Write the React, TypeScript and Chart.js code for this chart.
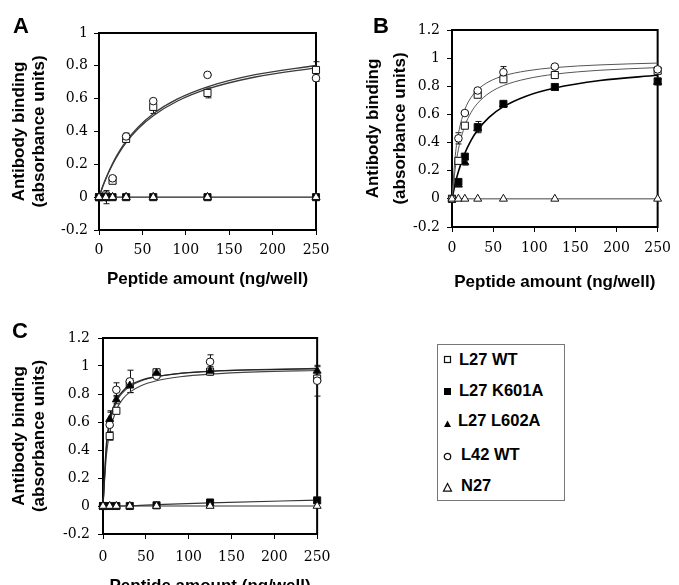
import React, { useEffect, useRef } from 'react';
import { Chart, registerables } from 'chart.js';

Chart.register(...registerables);

// ---------- data ----------
const DOSES = [0, 7.8, 15.6, 31.25, 62.5, 125, 250];
const FIT_X = [0, 4, 7.8, 15.6, 23, 31.25, 45, 62.5, 90, 125, 180, 250];
const ZERO_FIT_X = [0, 250];
const ZERO_FIT_Y = [0, 0];
const ZEROS = [0, 0, 0, 0, 0, 0, 0];

const X_TITLE = 'Peptide amount (ng/well)';
const Y_TITLE = ['Antibody binding', '(absorbance units)'];
const SERIES_NAMES = ['L27 WT', 'L27 K601A', 'L27 L602A', 'L42 WT', 'N27'];

// Panel A
const A_L27WT = [0, 0.01, 0.1, 0.355, 0.55, 0.635, 0.775];
const A_L27WT_ERR = [0, 0.01, 0.015, 0.02, 0.04, 0.03, 0.05];
const A_L42WT = [0, 0.0, 0.115, 0.37, 0.585, 0.745, 0.725];
const A_L42WT_ERR = [0, 0.04, 0.01, 0.02, 0.01, 0.005, 0.02];
const A_FIT_UPPER = [0, 0.062, 0.114, 0.205, 0.276, 0.341, 0.426, 0.508, 0.597, 0.672, 0.746, 0.802];
const A_FIT_LOWER = [0, 0.06, 0.111, 0.199, 0.268, 0.332, 0.416, 0.496, 0.584, 0.659, 0.732, 0.788];

// Panel B
const B_L27WT = [0, 0.27, 0.52, 0.74, 0.85, 0.88, 0.91];
const B_L27WT_ERR = [0, 0.02, 0.01, 0.01, 0.01, 0.01, 0.02];
const B_L42WT = [0, 0.43, 0.61, 0.77, 0.9, 0.94, 0.92];
const B_L42WT_ERR = [0, 0.04, 0.01, 0.01, 0.04, 0.01, 0.01];
const B_K601A = [0, 0.12, 0.3, 0.51, 0.675, 0.795, 0.835];
const B_K601A_ERR = [0, 0.02, 0.02, 0.04, 0.02, 0.02, 0.02];
const B_L602A = [0, 0.1, 0.26, 0.5, 0.67, 0.79, 0.83];
const B_L602A_ERR = [0, 0.01, 0.02, 0.02, 0.02, 0.02, 0.02];
const B_FIT_L42 = [0, 0.308, 0.464, 0.634, 0.719, 0.776, 0.833, 0.874, 0.909, 0.933, 0.952, 0.965];
const B_FIT_L27 = [0, 0.219, 0.352, 0.519, 0.612, 0.68, 0.751, 0.805, 0.852, 0.886, 0.914, 0.933];
const B_FIT_MUT = [0, 0.11, 0.194, 0.324, 0.414, 0.489, 0.579, 0.655, 0.73, 0.788, 0.841, 0.878];

// Panel C
const C_L27WT = [0, 0.5, 0.68, 0.87, 0.955, 0.96, 0.91];
const C_L27WT_ERR = [0, 0.03, 0.02, 0.02, 0.01, 0.02, 0.02];
const C_L42WT = [0, 0.58, 0.83, 0.89, 0.93, 1.03, 0.895];
const C_L42WT_ERR = [0, 0.1, 0.05, 0.08, 0.01, 0.05, 0.11];
const C_L602A = [0, 0.62, 0.76, 0.86, 0.95, 0.965, 0.965];
const C_L602A_ERR = [0, 0.05, 0.03, 0.05, 0.01, 0.03, 0.03];
const C_K601A = [0, 0, 0, 0, 0.005, 0.025, 0.04];
const C_FIT_L602A = [0, 0.444, 0.609, 0.757, 0.821, 0.862, 0.9, 0.926, 0.947, 0.962, 0.973, 0.98];
const C_FIT_L42 = [0, 0.423, 0.589, 0.743, 0.81, 0.854, 0.895, 0.923, 0.948, 0.963, 0.975, 0.983];
const C_FIT_L27 = [0, 0.362, 0.524, 0.687, 0.763, 0.813, 0.861, 0.895, 0.923, 0.942, 0.958, 0.968];
const C_FIT_K601A_X = [0, 31.25, 62.5, 125, 250];
const C_FIT_K601A = [0, 0.002, 0.01, 0.022, 0.042];

// ---------- helpers ----------
const pts = (xs: number[], ys: number[]) => xs.map((x, i) => ({ x, y: ys[i] }));

type Marker = 'openSquare' | 'filledSquare' | 'filledTriangle' | 'openCircle' | 'openTriangle';

function pointSet(ys: number[], marker: Marker, errors?: number[]) {
  const filled = marker === 'filledSquare' || marker === 'filledTriangle';
  const style = marker.includes('Square') ? 'rect' : marker.includes('Triangle') ? 'triangle' : 'circle';
  const radius = style === 'rect' ? 5 : style === 'triangle' ? 4.6 : 3.8;
  return {
    type: 'line',
    data: pts(DOSES, ys),
    showLine: false,
    pointStyle: style,
    pointRadius: radius,
    pointBackgroundColor: filled ? '#000' : '#fff',
    pointBorderColor: '#111',
    pointBorderWidth: 1,
    clip: false,
    errors,
  } as any;
}

function fitSet(xs: number[], ys: number[], color: string, width: number) {
  return {
    type: 'line',
    data: pts(xs, ys),
    borderColor: color,
    borderWidth: width,
    pointRadius: 0,
    fill: false,
    cubicInterpolationMode: 'monotone',
    clip: false,
  } as any;
}

const framePlugin = {
  id: 'frame',
  beforeDatasetsDraw(chart: any) {
    const { ctx, chartArea: a } = chart;
    ctx.save();
    ctx.strokeStyle = '#000';
    ctx.lineWidth = 2;
    ctx.strokeRect(a.left, a.top, a.right - a.left, a.bottom - a.top);
    ctx.restore();
  },
};

const errorBarPlugin = {
  id: 'errorBars',
  beforeDatasetsDraw(chart: any) {
    const { ctx } = chart;
    const xs = chart.scales.x;
    const ys = chart.scales.y;
    ctx.save();
    ctx.strokeStyle = '#111';
    ctx.lineWidth = 1;
    chart.data.datasets.forEach((ds: any) => {
      if (!ds.errors) return;
      ds.data.forEach((p: any, i: number) => {
        const e = ds.errors[i];
        if (!e) return;
        const px = Math.round(xs.getPixelForValue(p.x)) + 0.5;
        const t = ys.getPixelForValue(p.y + e);
        const b = ys.getPixelForValue(p.y - e);
        ctx.beginPath();
        ctx.moveTo(px, t);
        ctx.lineTo(px, b);
        ctx.moveTo(px - 3, t);
        ctx.lineTo(px + 3, t);
        ctx.moveTo(px - 3, b);
        ctx.lineTo(px + 3, b);
        ctx.stroke();
      });
    });
    ctx.restore();
  },
};

interface PanelSpec {
  left: number;
  top: number;
  width: number;
  height: number;
  area: { l: number; r: number; t: number; b: number };
  yMax: number;
  yTickPad: number;
  xTickPad: number;
  xTitlePad: number;
  yTitleLH: number;
  yTitlePad: number;
  datasets: any[];
}

const TICK_FONT = { family: '"DejaVu Serif", serif', size: 14 };
const TITLE_SIZE = 17;
const TITLE_FONT = { family: '"Liberation Sans", Arial, sans-serif', size: TITLE_SIZE, weight: 'bold' as const };

function Panel({ spec }: { spec: PanelSpec }) {
  const ref = useRef<HTMLCanvasElement>(null);
  useEffect(() => {
    if (!ref.current) return;
    const s = spec;
    const chart = new Chart(ref.current, {
      type: 'line',
      data: { datasets: s.datasets },
      options: {
        animation: false,
        responsive: false,
        maintainAspectRatio: false,
        devicePixelRatio: 1,
        events: [],
        layout: { padding: { left: 0, top: s.area.t, right: s.width - s.area.r, bottom: 0 } },
        plugins: { legend: { display: false }, tooltip: { enabled: false } },
        scales: {
          x: {
            type: 'linear',
            min: 0,
            max: 250,
            ticks: { stepSize: 50, font: TICK_FONT, color: '#000', padding: s.xTickPad, maxRotation: 0 },
            grid: { drawOnChartArea: false, drawTicks: true, tickLength: 5, color: '#000', lineWidth: 1 },
            border: { display: true, color: '#000', width: 2 },
            title: {
              display: true,
              text: X_TITLE,
              font: TITLE_FONT,
              color: '#000',
              padding: { top: 0, bottom: s.xTitlePad },
            },
            afterFit: (sc: any) => {
              sc.height = s.height - s.area.b;
            },
          },
          y: {
            type: 'linear',
            min: -0.2,
            max: s.yMax,
            ticks: {
              stepSize: 0.2,
              font: TICK_FONT,
              color: '#000',
              padding: s.yTickPad,
              callback: (v: any) => String(Number(Number(v).toFixed(1))),
            },
            grid: { drawOnChartArea: false, drawTicks: true, tickLength: 5, color: '#000', lineWidth: 1 },
            border: { display: true, color: '#000', width: 2 },
            title: {
              display: true,
              text: Y_TITLE,
              font: { ...TITLE_FONT, lineHeight: s.yTitleLH },
              color: '#000',
              padding: { top: s.yTitlePad, bottom: 0 },
            },
            afterFit: (sc: any) => {
              sc.width = s.area.l;
            },
          },
        },
      } as any,
      plugins: [framePlugin, errorBarPlugin],
    });
    return () => chart.destroy();
  }, [spec]);
  return (
    <div style={{ position: 'absolute', left: spec.left, top: spec.top, width: spec.width, height: spec.height }}>
      <canvas ref={ref} width={spec.width} height={spec.height} style={{ width: spec.width, height: spec.height, display: 'block' }} />
    </div>
  );
}

const SPEC_A: PanelSpec = {
  left: 0,
  top: 0,
  width: 340,
  height: 300,
  area: { l: 99, r: 316, t: 33, b: 230 },
  yMax: 1,
  yTickPad: 6,
  xTickPad: 7,
  xTitlePad: 10,
  yTitleLH: 20 / TITLE_SIZE,
  yTitlePad: 9,
  datasets: [
    pointSet(ZEROS, 'openTriangle'),
    pointSet(ZEROS, 'filledSquare'),
    pointSet(ZEROS, 'filledTriangle'),
    pointSet(A_L42WT, 'openCircle', A_L42WT_ERR),
    pointSet(A_L27WT, 'openSquare', A_L27WT_ERR),
    fitSet(FIT_X, A_FIT_UPPER, '#3a3a3a', 1.3),
    fitSet(FIT_X, A_FIT_LOWER, '#3a3a3a', 1.3),
    fitSet(ZERO_FIT_X, ZERO_FIT_Y, '#222', 1.2),
  ],
};

const SPEC_B: PanelSpec = {
  left: 340,
  top: 0,
  width: 339,
  height: 300,
  area: { l: 112, r: 326, t: 30, b: 227 },
  yMax: 1.2,
  yTickPad: 7,
  xTickPad: 8,
  xTitlePad: 7,
  yTitleLH: 27 / TITLE_SIZE,
  yTitlePad: 20,
  datasets: [
    pointSet(ZEROS, 'openTriangle'),
    pointSet(B_L42WT, 'openCircle', B_L42WT_ERR),
    pointSet(B_L27WT, 'openSquare', B_L27WT_ERR),
    pointSet(B_K601A, 'filledSquare', B_K601A_ERR),
    pointSet(B_L602A, 'filledTriangle', B_L602A_ERR),
    fitSet(FIT_X, B_FIT_L42, '#555', 1),
    fitSet(FIT_X, B_FIT_L27, '#555', 1),
    fitSet(FIT_X, B_FIT_MUT, '#000', 1.6),
    fitSet(ZERO_FIT_X, ZERO_FIT_Y, '#444', 1),
  ],
};

const SPEC_C: PanelSpec = {
  left: 0,
  top: 300,
  width: 340,
  height: 300,
  area: { l: 103, r: 319, t: 38, b: 234 },
  yMax: 1.2,
  yTickPad: 8,
  xTickPad: 9.5,
  xTitlePad: 3,
  yTitleLH: 20 / TITLE_SIZE,
  yTitlePad: 9,
  datasets: [
    pointSet(ZEROS, 'openTriangle'),
    pointSet(C_K601A, 'filledSquare'),
    pointSet(C_L602A, 'filledTriangle', C_L602A_ERR),
    pointSet(C_L42WT, 'openCircle', C_L42WT_ERR),
    pointSet(C_L27WT, 'openSquare', C_L27WT_ERR),
    fitSet(FIT_X, C_FIT_L602A, '#222', 1.3),
    fitSet(FIT_X, C_FIT_L42, '#444', 1.1),
    fitSet(FIT_X, C_FIT_L27, '#444', 1.1),
    fitSet(C_FIT_K601A_X, C_FIT_K601A, '#333', 1.1),
    fitSet(ZERO_FIT_X, ZERO_FIT_Y, '#333', 1.1),
  ],
};

const LETTER_STYLE: React.CSSProperties = {
  position: 'absolute',
  fontFamily: '"Liberation Sans", Arial, sans-serif',
  fontWeight: 'bold',
  fontSize: 22,
  lineHeight: 1,
  color: '#000',
};

function LegendIcon({ marker }: { marker: Marker }) {
  const stroke = '#111';
  let shape: React.ReactNode = null;
  if (marker === 'openSquare') shape = <rect x={2.5} y={2.5} width={6} height={6} fill="#fff" stroke={stroke} strokeWidth={1.2} />;
  if (marker === 'filledSquare') shape = <rect x={2} y={2} width={7} height={7} fill="#000" />;
  if (marker === 'filledTriangle') shape = <polygon points="5.5,2.5 9,9 2,9" fill="#000" />;
  if (marker === 'openCircle') shape = <circle cx={5.5} cy={5.5} r={3.2} fill="#fff" stroke={stroke} strokeWidth={1.3} />;
  if (marker === 'openTriangle') shape = <polygon points="5.5,1.5 9.5,9.2 1.5,9.2" fill="#fff" stroke={stroke} strokeWidth={1.2} />;
  return (
    <svg width={11} height={11} style={{ display: 'block' }}>
      {shape}
    </svg>
  );
}

const LEGEND_MARKERS: Marker[] = ['openSquare', 'filledSquare', 'filledTriangle', 'openCircle', 'openTriangle'];
const LEGEND_ROW_Y = [359, 390, 420, 454, 485];
const LEGEND_ICON_Y = [359, 391, 423, 456, 487];
const LEGEND_TEXT_X = [459, 459, 458, 461, 461];

function LegendBox() {
  return (
    <>
      <div
        style={{
          position: 'absolute',
          left: 437,
          top: 344,
          width: 126,
          height: 155,
          border: '1px solid #777',
          background: '#fff',
        }}
      />
      {SERIES_NAMES.map((name, i) => (
        <React.Fragment key={name}>
          <div style={{ position: 'absolute', left: 447 - 5.5, top: LEGEND_ICON_Y[i] - 5.5 }}>
            <LegendIcon marker={LEGEND_MARKERS[i]} />
          </div>
          <div
            style={{
              position: 'absolute',
              left: LEGEND_TEXT_X[i],
              top: LEGEND_ROW_Y[i] - 8,
              fontFamily: '"Liberation Sans", Arial, sans-serif',
              fontWeight: 'bold',
              fontSize: 16.5,
              lineHeight: 1,
              color: '#000',
              whiteSpace: 'nowrap',
            }}
          >
            {name}
          </div>
        </React.Fragment>
      ))}
    </>
  );
}

export default function App() {
  return (
    <div style={{ position: 'absolute', left: 0, top: 0, width: 679, height: 585, background: '#fff' }}>
      <Panel spec={SPEC_A} />
      <Panel spec={SPEC_B} />
      <Panel spec={SPEC_C} />
      <div style={{ ...LETTER_STYLE, left: 13, top: 15 }}>A</div>
      <div style={{ ...LETTER_STYLE, left: 373, top: 15 }}>B</div>
      <div style={{ ...LETTER_STYLE, left: 12, top: 320 }}>C</div>
      <LegendBox />
    </div>
  );
}
